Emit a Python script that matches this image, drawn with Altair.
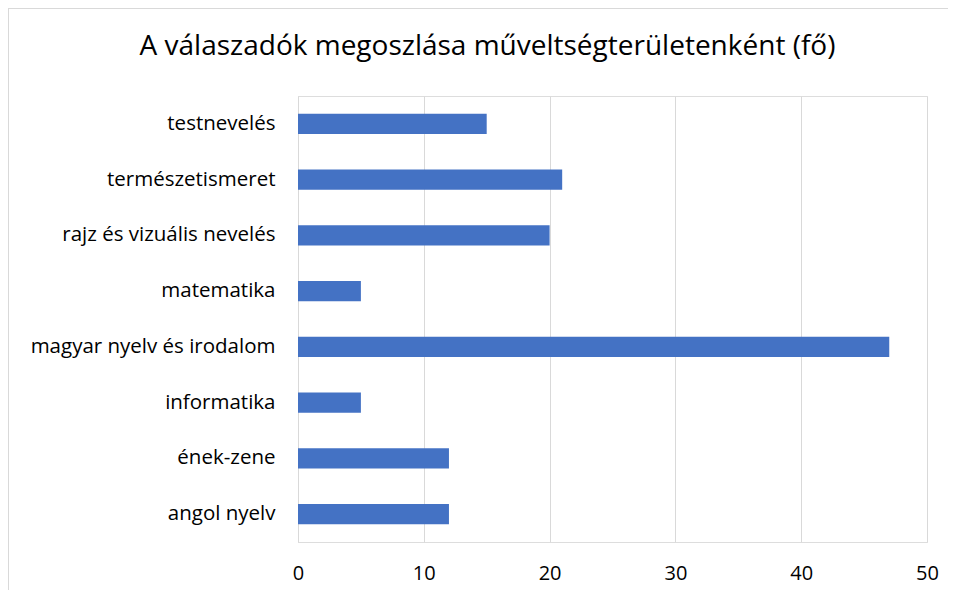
import altair as alt
import pandas as pd

categories = [
    "testnevelés",
    "természetismeret",
    "rajz és vizuális nevelés",
    "matematika",
    "magyar nyelv és irodalom",
    "informatika",
    "ének-zene",
    "angol nyelv",
]
values = [15, 21, 20, 5, 47, 5, 12, 12]
x_ticks = [0, 10, 20, 30, 40, 50]
title_text = "A válaszadók megoszlása műveltségterületenként (fő)"

df = pd.DataFrame({"kategoria": categories, "fo": values})

FONT = "Open Sans"

bars = alt.Chart(df).mark_bar(color="#4472C4").encode(
    x=alt.X(
        "fo:Q",
        scale=alt.Scale(domain=[0, 50], nice=False),
        axis=alt.Axis(
            values=x_ticks,
            title=None,
            grid=True,
            gridColor="#d9d9d9",
            gridWidth=1,
            domain=False,
            ticks=False,
            labelPadding=21,
            labelFontSize=20,
            labelFont=FONT,
            labelColor="#000000",
            labelFlush=False,
        ),
    ),
    y=alt.Y(
        "kategoria:N",
        sort=categories,
        scale=alt.Scale(paddingInner=0.64, paddingOuter=0.32),
        axis=alt.Axis(
            title=None,
            domain=True,
            domainColor="#d9d9d9",
            domainWidth=1,
            ticks=False,
            labelPadding=23,
            labelFontSize=20.5,
            labelFont=FONT,
            labelColor="#000000",
            labelLimit=400,
        ),
    ),
)

border = pd.DataFrame({"k": [0]})
left_border = alt.Chart(border).mark_rule(color="#d9d9d9", strokeWidth=1).encode(
    x=alt.value(-289.5), y=alt.value(-88), y2=alt.value(500)
)
top_border = alt.Chart(border).mark_rule(color="#d9d9d9", strokeWidth=1).encode(
    x=alt.value(-290), x2=alt.value(650), y=alt.value(-87.5)
)

chart = (
    alt.layer(bars, left_border, top_border)
    .properties(
        width=629,
        height=446,
        padding={"left": 290, "top": 88, "right": 21, "bottom": 48},
        autosize=alt.AutoSizeParams(type="none"),
        title=alt.TitleParams(
            text=title_text,
            font=FONT,
            fontSize=28,
            fontWeight="normal",
            color="#000000",
            anchor="middle",
            dx=-125,
            dy=53,
            offset=0,
        ),
    )
    .configure_view(stroke=None)
    .configure(background="white")
)

chart.save("out.html", embed_options={"renderer": "svg", "actions": False})
